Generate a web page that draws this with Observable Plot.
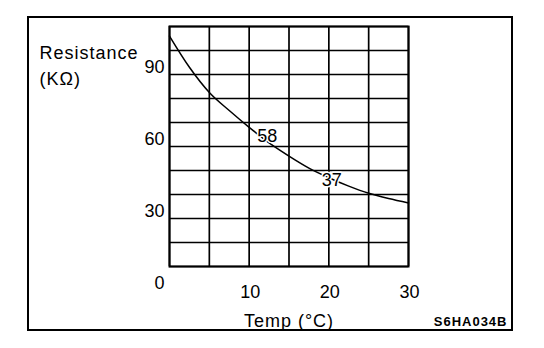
<!DOCTYPE html>
<html>
<head>
<meta charset="utf-8">
<script src="https://cdn.jsdelivr.net/npm/d3@7"></script>
<script src="https://cdn.jsdelivr.net/npm/@observablehq/plot@0.6"></script>
<style>
  html, body { margin: 0; padding: 0; background: white; }
  #wrap { position: relative; width: 544px; height: 348px; }
  #border { position: absolute; left: 27px; top: 16px; width: 486px; height: 315px;
            box-sizing: border-box; border: 2px solid black; pointer-events: none; }
</style>
</head>
<body>
<div id="wrap"><div id="border"></div></div>
<script>
// Data
const temps = [0, 2.5, 5, 7.5, 10, 12.5, 15, 17.5, 20, 22.5, 25, 27.5, 30];
const resistance = [96, 83, 72.5, 65, 58, 51.5, 46, 41, 37, 33.5, 30.5, 28.3, 26.5];
const xGridValues = [0, 5, 10, 15, 20, 25, 30];
const yGridValues = [0, 10, 20, 30, 40, 50, 60, 70, 80, 90, 100];
const xTickLabels = [10, 20, 30];
const yTickLabels = [0, 30, 60, 90];
const callout1 = {temp: [10], value: [58], text: ["58"]};
const callout2 = {temp: [20], value: [37], text: ["37"]};
const yTitle = "Resistance\n(KΩ)";
const xTitle = "Temp (°C)";
const code = "S6HA034B";

const font = "'Liberation Sans', Arial, Helvetica, sans-serif";

const chart = Plot.plot({
  width: 544,
  height: 348,
  marginLeft: 169,
  marginRight: 136,
  marginTop: 26,
  marginBottom: 82,
  style: {fontFamily: font, fontSize: "18px", background: "white", color: "black", overflow: "visible"},
  x: {domain: [0, 30]},
  y: {domain: [0, 100]},
  marks: [
    Plot.gridX({ticks: xGridValues, stroke: "black", strokeOpacity: 1, strokeWidth: 1.7}),
    Plot.gridY({ticks: yGridValues, stroke: "black", strokeOpacity: 1, strokeWidth: 1.7}),
    Plot.frame({stroke: "black", strokeWidth: 2}),
    Plot.line(resistance, {x: temps, y: resistance, curve: "monotone-x", stroke: "black", strokeWidth: 1.5}),
    Plot.text(callout1.text, {x: callout1.temp, y: callout1.value, text: callout1.text, dx: 18, dy: 9,
      fontSize: 18, fill: "black", stroke: "white", strokeWidth: 3}),
    Plot.text(callout2.text, {x: callout2.temp, y: callout2.value, text: callout2.text, dx: 3, dy: 3,
      fontSize: 18, fill: "black", stroke: "white", strokeWidth: 3}),
    Plot.axisY({ticks: yTickLabels, tickSize: 0, tickPadding: 5, dy: 17, fontSize: 18, label: null}),
    Plot.axisX({ticks: xTickLabels, tickSize: 0, tickPadding: 19, dx: 1, fontSize: 18, label: null}),
    Plot.text([yTitle], {frameAnchor: "top-left", dx: -130, dy: 37, textAnchor: "start",
      lineAnchor: "middle", lineHeight: 1.45, fontSize: 18, fill: "black"}),
    Plot.text([xTitle], {frameAnchor: "bottom", dy: 55, lineAnchor: "middle", fontSize: 18, fill: "black"}),
    Plot.text([code], {frameAnchor: "bottom-right", dx: 99, dy: 55, textAnchor: "end",
      lineAnchor: "middle", fontSize: 13, fontWeight: "bold", fill: "black"})
  ]
});

d3.select(chart).selectAll("text")
  .filter(function() { return /Resistance|KΩ|Temp|S6HA/.test(this.textContent); })
  .attr("letter-spacing", "1px");

document.getElementById("wrap").insertBefore(chart, document.getElementById("border"));
</script>
</body>
</html>
